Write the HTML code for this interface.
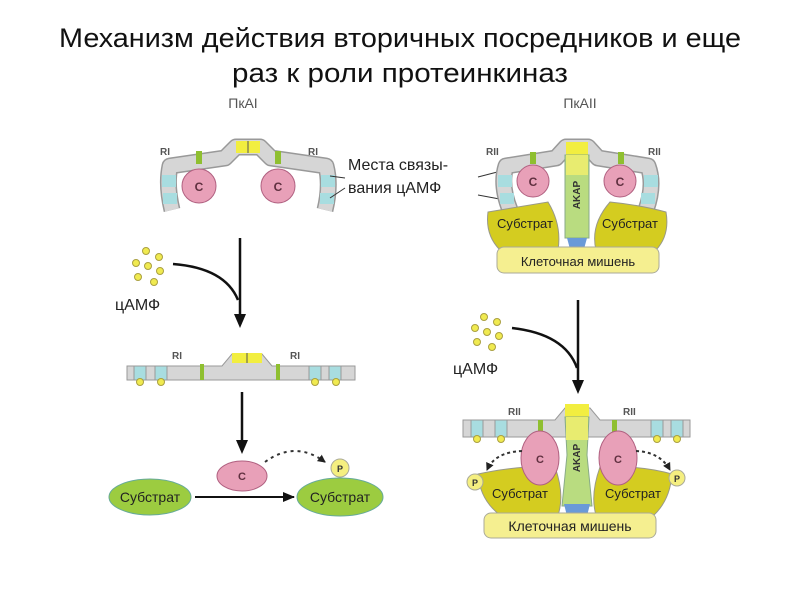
<!DOCTYPE html>
<html><head><meta charset="utf-8"><style>
body{margin:0;background:#fff;width:800px;height:600px;overflow:hidden}
svg{display:block}
text{font-family:"Liberation Sans",sans-serif}
</style></head><body>
<svg width="800" height="600" viewBox="0 0 800 600" xmlns="http://www.w3.org/2000/svg">
<defs>
<marker id="ah" markerWidth="14" markerHeight="12" refX="2" refY="6" orient="auto" markerUnits="userSpaceOnUse">
<path d="M0,0 L14,6 L0,12 z" fill="#111"/></marker>
<marker id="ar" markerWidth="12" markerHeight="10" refX="11" refY="5" orient="auto" markerUnits="userSpaceOnUse">
<path d="M0,0 L12,5 L0,10 z" fill="#111"/></marker>
<marker id="as" markerWidth="8" markerHeight="8" refX="7" refY="4" orient="auto" markerUnits="userSpaceOnUse">
<path d="M0,0 L8,4 L0,8 z" fill="#222"/></marker>
</defs>
<text x="400" y="47" font-size="27" text-anchor="middle" fill="#111" textLength="682" lengthAdjust="spacingAndGlyphs">Механизм действия вторичных посредников и еще</text>
<text x="400" y="82" font-size="27" text-anchor="middle" fill="#111" textLength="336" lengthAdjust="spacingAndGlyphs">раз к роли протеинкиназ</text>
<text x="243" y="108" font-size="14" text-anchor="middle" fill="#555">ПкАI</text>
<text x="580" y="108" font-size="14" text-anchor="middle" fill="#555">ПкАII</text>

<!-- PKA I top -->
<g>
<path d="M172,210 Q166,185 170,166 L225,158 L236,147 L260,147 L271,158 L326,166 Q331,185 325,210" fill="none" stroke="#999" stroke-width="17" stroke-linejoin="round"/>
<path d="M172,210 Q166,185 170,166 L225,158 L236,147 L260,147 L271,158 L326,166 Q331,185 325,210" fill="none" stroke="#d6d6d6" stroke-width="14" stroke-linejoin="round"/>
<rect x="162" y="175" width="14" height="12" fill="#a8dde0"/><rect x="163" y="193" width="14" height="11" fill="#a8dde0"/>
<rect x="321" y="175" width="14" height="12" fill="#a8dde0"/><rect x="320" y="193" width="14" height="11" fill="#a8dde0"/>
<rect x="236" y="141" width="24" height="12" fill="#f2ee40"/><line x1="248" y1="141" x2="248" y2="153" stroke="#555"/>
<rect x="196" y="151" width="6" height="13" fill="#8fbf30"/><rect x="275" y="151" width="6" height="13" fill="#8fbf30"/>
<circle cx="199" cy="186" r="17" fill="#e8a0b8" stroke="#b06080"/><text x="199" y="191" font-size="12" font-weight="bold" text-anchor="middle" fill="#603040">C</text>
<circle cx="278" cy="186" r="17" fill="#e8a0b8" stroke="#b06080"/><text x="278" y="191" font-size="12" font-weight="bold" text-anchor="middle" fill="#603040">C</text>
<text x="160" y="155" font-size="10" font-weight="bold" fill="#555">RI</text>
<text x="308" y="155" font-size="10" font-weight="bold" fill="#555">RI</text>
</g>
<text x="348" y="170" font-size="16" fill="#222">Места связы-</text>
<text x="348" y="193" font-size="16" fill="#222">вания цАМФ</text>
<line x1="345" y1="178" x2="330" y2="176" stroke="#333"/><line x1="345" y1="188" x2="330" y2="198" stroke="#333"/>
<line x1="478" y1="177" x2="505" y2="170" stroke="#333"/><line x1="478" y1="195" x2="505" y2="200" stroke="#333"/>

<!-- PKA II top -->
<g>
<path d="M510,210 Q500,185 506,166 L556,158 L566,147 L588,147 L598,158 L648,166 Q655,185 646,210" fill="none" stroke="#999" stroke-width="17" stroke-linejoin="round"/>
<path d="M510,210 Q500,185 506,166 L556,158 L566,147 L588,147 L598,158 L648,166 Q655,185 646,210" fill="none" stroke="#d6d6d6" stroke-width="14" stroke-linejoin="round"/>
<rect x="498" y="175" width="14" height="12" fill="#a8dde0"/><rect x="500" y="193" width="14" height="11" fill="#a8dde0"/>
<rect x="644" y="175" width="14" height="12" fill="#a8dde0"/><rect x="641" y="193" width="14" height="11" fill="#a8dde0"/>
<rect x="566" y="142" width="22" height="13" fill="#f2ee40"/>
<rect x="565" y="155" width="24" height="83" fill="#b9dc80" stroke="#8a8"/>
<rect x="566" y="155" width="22" height="20" fill="#e8ec70"/>
<path d="M567,238 L587,238 L584,249 L570,249 z" fill="#6a9ad8"/>
<text x="580" y="195" font-size="10" font-weight="bold" fill="#333" transform="rotate(-90 580 195)" text-anchor="middle">AKAP</text>
<rect x="530" y="152" width="6" height="12" fill="#8fbf30"/><rect x="618" y="152" width="6" height="12" fill="#8fbf30"/>
<circle cx="533" cy="181" r="16" fill="#e8a0b8" stroke="#b06080"/><text x="533" y="186" font-size="12" font-weight="bold" text-anchor="middle" fill="#603040">C</text>
<circle cx="620" cy="181" r="16" fill="#e8a0b8" stroke="#b06080"/><text x="620" y="186" font-size="12" font-weight="bold" text-anchor="middle" fill="#603040">C</text>
<text x="486" y="155" font-size="10" font-weight="bold" fill="#555">RII</text>
<text x="648" y="155" font-size="10" font-weight="bold" fill="#555">RII</text>
<path d="M488,212 Q530,205 548,202 Q562,225 558,250 L500,250 Q485,235 488,212 z" fill="#d4cc20" stroke="#998"/>
<path d="M610,202 Q640,205 666,212 Q670,235 656,250 L596,250 Q590,225 610,202 z" fill="#d4cc20" stroke="#998"/>
<text x="525" y="228" font-size="13" text-anchor="middle" fill="#222">Субстрат</text>
<text x="630" y="228" font-size="13" text-anchor="middle" fill="#222">Субстрат</text>
<rect x="497" y="247" width="162" height="26" rx="7" fill="#f5ef90" stroke="#aa9"/>
<text x="578" y="266" font-size="13" text-anchor="middle" fill="#222">Клеточная мишень</text>
</g>

<!-- left middle -->
<line x1="240" y1="238" x2="240" y2="316" stroke="#111" stroke-width="2.5" marker-end="url(#ah)"/>
<path d="M173,264 Q225,268 238,300" fill="none" stroke="#111" stroke-width="2.5"/>
<g fill="#f0ea50" stroke="#aaa040">
<circle cx="146" cy="251" r="3.5"/><circle cx="159" cy="257" r="3.5"/><circle cx="136" cy="263" r="3.5"/><circle cx="148" cy="266" r="3.5"/><circle cx="160" cy="271" r="3.5"/><circle cx="138" cy="277" r="3.5"/><circle cx="154" cy="282" r="3.5"/>
</g>
<text x="115" y="310" font-size="16" fill="#222">цАМФ</text>

<path d="M127,366 L222,366 L232,354 L262,354 L272,366 L355,366 L355,380 L127,380 z" fill="#d6d6d6" stroke="#999"/>
<rect x="232" y="353" width="30" height="10" fill="#f2ee40"/><line x1="247" y1="353" x2="247" y2="363" stroke="#555"/>
<g fill="#a8dde0" stroke="#999"><rect x="134" y="366" width="12" height="14"/><rect x="155" y="366" width="12" height="14"/><rect x="309" y="366" width="12" height="14"/><rect x="329" y="366" width="12" height="14"/></g>
<rect x="200" y="364" width="4" height="16" fill="#8fbf30"/><rect x="276" y="364" width="4" height="16" fill="#8fbf30"/>
<g fill="#f0ea50" stroke="#aaa040"><circle cx="140" cy="382" r="3.5"/><circle cx="161" cy="382" r="3.5"/><circle cx="315" cy="382" r="3.5"/><circle cx="336" cy="382" r="3.5"/></g>
<text x="172" y="359" font-size="10" font-weight="bold" fill="#555">RI</text>
<text x="290" y="359" font-size="10" font-weight="bold" fill="#555">RI</text>

<line x1="242" y1="392" x2="242" y2="442" stroke="#111" stroke-width="2.5" marker-end="url(#ah)"/>
<ellipse cx="242" cy="476" rx="25" ry="15" fill="#e8a0b8" stroke="#b06080"/>
<text x="242" y="480" font-size="11" font-weight="bold" text-anchor="middle" fill="#603040">C</text>
<path d="M265,462 Q295,440 325,462" fill="none" stroke="#333" stroke-width="2" stroke-dasharray="3,4" marker-end="url(#as)"/>
<circle cx="340" cy="468" r="9" fill="#f5ef80" stroke="#aa9"/><text x="340" y="472" font-size="9" font-weight="bold" text-anchor="middle" fill="#333">P</text>
<ellipse cx="150" cy="497" rx="41" ry="18" fill="#9ccc40" stroke="#6a9"/>
<text x="150" y="502" font-size="14" text-anchor="middle" fill="#222">Субстрат</text>
<ellipse cx="340" cy="497" rx="43" ry="19" fill="#9ccc40" stroke="#6a9"/>
<text x="340" y="502" font-size="14" text-anchor="middle" fill="#222">Субстрат</text>
<line x1="195" y1="497" x2="294" y2="497" stroke="#111" stroke-width="2" marker-end="url(#ar)"/>

<!-- right middle -->
<line x1="578" y1="300" x2="578" y2="382" stroke="#111" stroke-width="2.5" marker-end="url(#ah)"/>
<path d="M512,328 Q565,334 577,368" fill="none" stroke="#111" stroke-width="2.5"/>
<g fill="#f0ea50" stroke="#aaa040">
<circle cx="484" cy="317" r="3.5"/><circle cx="497" cy="322" r="3.5"/><circle cx="475" cy="328" r="3.5"/><circle cx="487" cy="332" r="3.5"/><circle cx="499" cy="336" r="3.5"/><circle cx="477" cy="342" r="3.5"/><circle cx="492" cy="347" r="3.5"/>
</g>
<text x="453" y="374" font-size="16" fill="#222">цАМФ</text>

<!-- PKA II bottom -->
<path d="M463,420 L555,420 L565,408 L590,408 L600,420 L690,420 L690,437 L463,437 z" fill="#d6d6d6" stroke="#999"/>
<g fill="#a8dde0" stroke="#999"><rect x="471" y="420" width="12" height="17"/><rect x="495" y="420" width="12" height="17"/><rect x="651" y="420" width="12" height="17"/><rect x="671" y="420" width="12" height="17"/></g>
<g fill="#f0ea50" stroke="#aaa040"><circle cx="477" cy="439" r="3.5"/><circle cx="501" cy="439" r="3.5"/><circle cx="657" cy="439" r="3.5"/><circle cx="677" cy="439" r="3.5"/></g>
<text x="508" y="415" font-size="10" font-weight="bold" fill="#555">RII</text>
<text x="623" y="415" font-size="10" font-weight="bold" fill="#555">RII</text>
<rect x="538" y="420" width="5" height="14" fill="#8fbf30"/><rect x="612" y="420" width="5" height="14" fill="#8fbf30"/>
<rect x="565" y="404" width="24" height="13" fill="#f2ee40"/>
<path d="M565,417 L589,417 L587,455 L592,506 L562,506 L567,455 z" fill="#b9dc80" stroke="#8a8"/>
<path d="M566,417 L588,417 L588,440 L566,440 z" fill="#e8ec70"/>
<path d="M564,504 L590,504 L587,516 L567,516 z" fill="#6a9ad8"/>
<text x="580" y="458" font-size="10" font-weight="bold" fill="#333" transform="rotate(-90 580 458)" text-anchor="middle">AKAP</text>
<path d="M478,474 Q520,465 555,467 Q565,495 558,515 L500,515 Q480,500 478,474 z" fill="#d4cc20" stroke="#998"/>
<path d="M600,467 Q640,465 672,474 Q670,500 654,515 L596,515 Q590,495 600,467 z" fill="#d4cc20" stroke="#998"/>
<ellipse cx="540" cy="458" rx="19" ry="27" fill="#e8a0b8" stroke="#b06080"/>
<text x="540" y="463" font-size="11" font-weight="bold" text-anchor="middle" fill="#603040">C</text>
<ellipse cx="618" cy="458" rx="19" ry="27" fill="#e8a0b8" stroke="#b06080"/>
<text x="618" y="463" font-size="11" font-weight="bold" text-anchor="middle" fill="#603040">C</text>
<path d="M522,451 Q495,452 487,470" fill="none" stroke="#333" stroke-width="2" stroke-dasharray="3,3" marker-end="url(#as)"/>
<path d="M636,451 Q660,452 670,470" fill="none" stroke="#333" stroke-width="2" stroke-dasharray="3,3" marker-end="url(#as)"/>
<circle cx="475" cy="482" r="8" fill="#f5ef80" stroke="#aa9"/><text x="475" y="486" font-size="9" font-weight="bold" text-anchor="middle" fill="#333">P</text>
<circle cx="677" cy="478" r="8" fill="#f5ef80" stroke="#aa9"/><text x="677" y="482" font-size="9" font-weight="bold" text-anchor="middle" fill="#333">P</text>
<text x="520" y="498" font-size="13" text-anchor="middle" fill="#222">Субстрат</text>
<text x="633" y="498" font-size="13" text-anchor="middle" fill="#222">Субстрат</text>
<rect x="484" y="513" width="172" height="25" rx="7" fill="#f5ef90" stroke="#aa9"/>
<text x="570" y="531" font-size="14" text-anchor="middle" fill="#222">Клеточная мишень</text>
</svg>
</body></html>
